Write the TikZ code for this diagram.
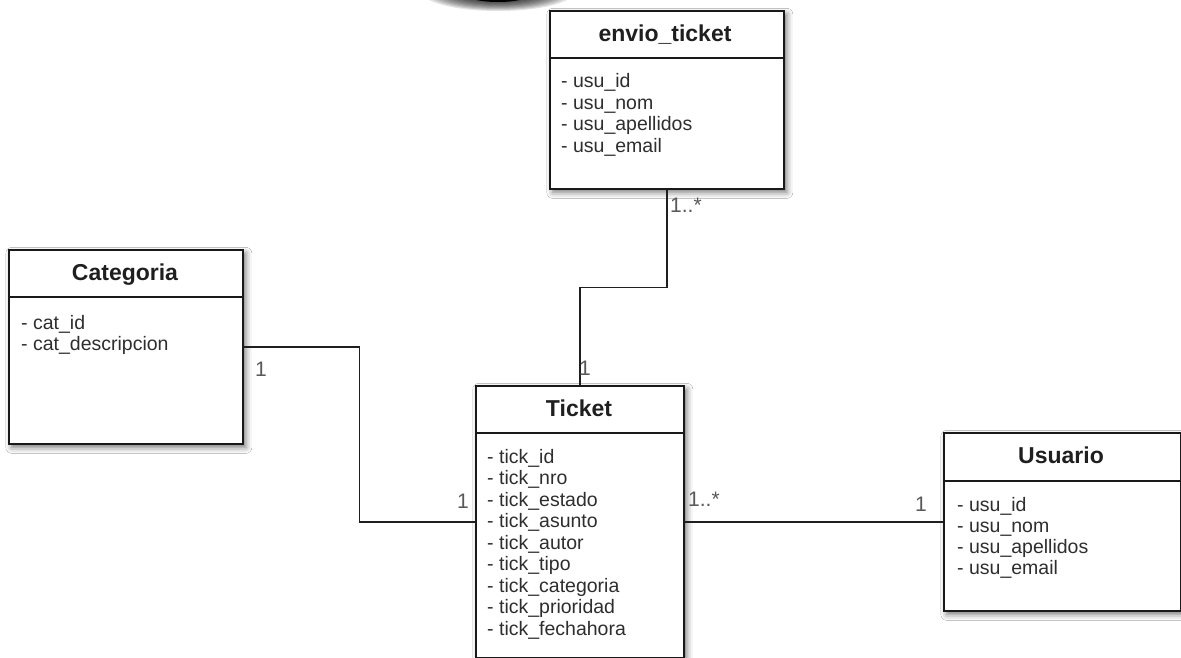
\documentclass[tikz,border=0pt]{standalone}
\usepackage{fontspec}
\setmainfont{Liberation Sans}
\usetikzlibrary{calc,shadows.blur}
\begin{document}
\begin{tikzpicture}[x=1pt,y=-1pt,
  classbox/.style={draw=black!90, line width=1.7pt, fill=white, inner sep=0pt, anchor=north west,
    blur shadow={shadow xshift=3pt, shadow yshift=-3.5pt, shadow blur radius=6pt, shadow opacity=55}},
  sepline/.style={draw=black!90, line width=1.5pt},
  ctitle/.style={font=\fontsize{23}{25}\selectfont\bfseries, text=black!88, inner sep=0pt, anchor=base},
  attr/.style={font=\fontsize{19.5}{21.5}\selectfont, text=black!82, inner sep=0pt, anchor=base west},
  mult/.style={font=\fontsize{21}{23}\selectfont, text=black!65, inner sep=0pt, anchor=base west},
  conn/.style={draw=black!88, line width=1.6pt}]
\useasboundingbox (0,0) rectangle (1181,658);
\fill[white] (0,0) rectangle (1181,658);
% partial dark blurred shape at the top edge
\foreach \k in {1,...,10}
  \fill[black, opacity=0.11] (498,-8) ellipse [x radius=36+4*\k, y radius=9+1*\k];
\fill[black] (498,-8) ellipse [x radius=36, y radius=10];

% envio_ticket
\node[classbox, minimum width=234pt, minimum height=178pt] (env) at (549,10) {};
\draw[sepline] ($(env.north west)+(0,48)$) -- ($(env.north east)+(0,48)$);
\node[ctitle] (envT) at (665,41.7) {envio\_ticket};
\foreach \t [count=\i from 0] in {usu\_id, usu\_nom, usu\_apellidos, usu\_email}
  \node[attr] (envA\i) at (561,88+21.5*\i) {- \t};

% Categoria
\node[classbox, minimum width=234pt, minimum height=194pt] (cat) at (8,249) {};
\draw[sepline] ($(cat.north west)+(0,48)$) -- ($(cat.north east)+(0,48)$);
\node[ctitle] (catT) at (125,280) {Categoria};
\foreach \t [count=\i from 0] in {cat\_id, cat\_descripcion}
  \node[attr] (catA\i) at (21,329+21.2*\i) {- \t};

% Ticket
\node[classbox, minimum width=208pt, minimum height=272pt] (tick) at (475,385) {};
\draw[sepline] ($(tick.north west)+(0,48)$) -- ($(tick.north east)+(0,48)$);
\node[ctitle] (tickT) at (579,416.7) {Ticket};
\foreach \t [count=\i from 0] in {tick\_id, tick\_nro, tick\_estado, tick\_asunto, tick\_autor, tick\_tipo, tick\_categoria, tick\_prioridad, tick\_fechahora}
  \node[attr] (tickA\i) at (487,463+21.5*\i) {- \t};

% Usuario
\node[classbox, minimum width=237pt, minimum height=178pt] (usr) at (943,432) {};
\draw[sepline] ($(usr.north west)+(0,49)$) -- ($(usr.north east)+(0,49)$);
\node[ctitle] (usrT) at (1061,463) {Usuario};
\foreach \t [count=\i from 0] in {usu\_id, usu\_nom, usu\_apellidos, usu\_email}
  \node[attr] (usrA\i) at (957,511+21.3*\i) {- \t};

% connectors
\coordinate (m1) at ($(env.south)!0.5!(tick.north)$);
\coordinate (m2) at ($(cat.east)!0.5!(tick.west)$);
\draw[conn] (env.south) |- (m1) -| (tick.north);
\draw[conn] (cat.east) -| (m2) |- (tick.west);
\draw[conn] (tick.east) -- (usr.west);

% multiplicities
\node[mult] (l1) at (670,212) {1..*};
\node[mult] (l2) at (579,375) {1};
\node[mult] (l3) at (255,376) {1};
\node[mult] (l4) at (457,508) {1};
\node[mult] (l5) at (688,506) {1..*};
\node[mult] (l6) at (915,511) {1};
\end{tikzpicture}
\end{document}
